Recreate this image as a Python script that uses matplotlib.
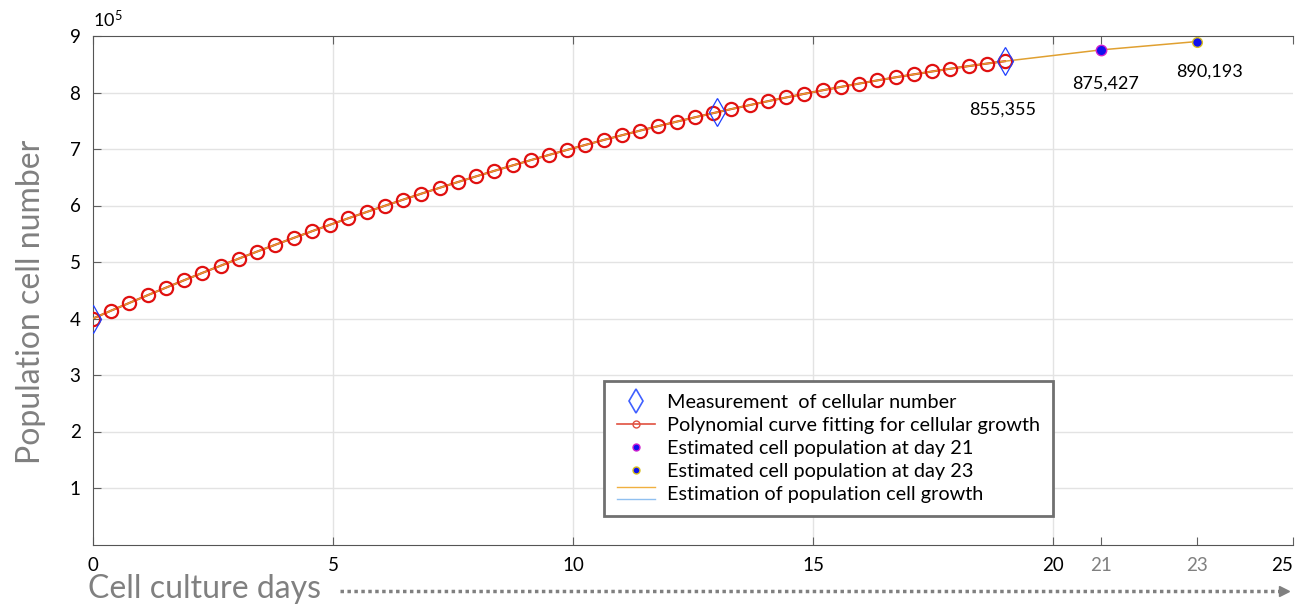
import numpy as np
import matplotlib.pyplot as plt
from matplotlib.lines import Line2D
from matplotlib.legend_handler import HandlerBase

plt.rcParams['font.family'] = ['Lato', 'DejaVu Sans']
plt.rcParams['mathtext.default'] = 'regular'

# measured cell counts (x 1e5)
meas_days = [0, 13, 19]
meas_values = [4.0, 7.65, 8.55355]

# polynomial fit samples (x 1e5)
fit_days = np.linspace(0, 19, 51)
fit_values = [4.000, 4.140, 4.277, 4.413, 4.546, 4.678, 4.808, 4.935, 5.061, 5.185,
              5.306, 5.426, 5.544, 5.660, 5.774, 5.885, 5.995, 6.103, 6.209, 6.313,
              6.415, 6.515, 6.613, 6.709, 6.803, 6.895, 6.985, 7.073, 7.160, 7.244,
              7.326, 7.406, 7.484, 7.561, 7.635, 7.707, 7.777, 7.846, 7.912, 7.977,
              8.039, 8.099, 8.158, 8.214, 8.269, 8.321, 8.372, 8.421, 8.467, 8.512,
              8.554]

# estimated populations
est_days = [21, 23]
est_values = [8.75427, 8.90193]

x_ticks = [0, 5, 10, 15, 20, 25]
extra_ticks = [21, 23]
y_ticks = [1, 2, 3, 4, 5, 6, 7, 8, 9]


class TwoLineHandler(HandlerBase):
    def create_artists(self, legend, orig_handle, xdescent, ydescent,
                       width, height, fontsize, trans):
        top, bottom = orig_handle
        x0, x1 = -xdescent, width - xdescent
        yc = height / 2 - ydescent
        l1 = Line2D([x0, x1], [yc + 0.45 * height] * 2, color=top.get_color(), lw=1)
        l2 = Line2D([x0, x1], [yc - 0.45 * height] * 2, color=bottom.get_color(), lw=1)
        l1.set_transform(trans)
        l2.set_transform(trans)
        return [l1, l2]


fig = plt.figure(figsize=(13.09, 6.10), dpi=100)
ax = fig.add_axes([93 / 1309, 65.5 / 610, 1200 / 1309, 508.5 / 610])

for v in y_ticks[:-1]:
    ax.axhline(v, color='#e3e3e3', lw=1, zorder=0)
for v in x_ticks[1:-1]:
    ax.axvline(v, color='#e3e3e3', lw=1, zorder=0)

ax.plot(fit_days, fit_values, color='#e01010', lw=1.5, zorder=2)
orange_days = list(fit_days) + est_days
orange_values = fit_values + est_values
ax.plot(orange_days, orange_values, color='#e0a030', lw=1.1, zorder=3)
ax.plot(fit_days, fit_values, 'o', ms=9.5, mfc='none', mec='#e01010', mew=1.6, zorder=4)
ax.plot(meas_days, meas_values, 'd', ms=14, mfc='none', mec='#2040ff', mew=0.9, zorder=5)
ax.plot(est_days[0], est_values[0], 'o', ms=7.5, mfc='#1010ee', mec='#d020d0', mew=1, zorder=6)
ax.plot(est_days[1], est_values[1], 'o', ms=7, mfc='#1010ee', mec='#d8c020', mew=1, zorder=6)

# value labels
offsets = [(-1.5, -35), (3, -24), (9, -22)]
lab_days = [meas_days[-1]] + est_days
lab_vals = [meas_values[-1]] + est_values
for d, v, off in zip(lab_days, lab_vals, offsets):
    ax.annotate(f"{int(round(v * 1e5)):,}", (d, v), xytext=off, textcoords='offset points',
                ha='center', va='center', fontsize=13)

ax.set_xlim(0, 25)
ax.set_ylim(0, 9)
ax.set_xticks(x_ticks + extra_ticks)
ax.set_xticklabels([str(t) for t in x_ticks + extra_ticks])
ax.set_yticks(y_ticks)
ax.tick_params(direction='in', length=6, colors='#606060', labelcolor='black',
               labelsize=13.5, top=True, pad=9)
for lbl in ax.get_xticklabels()[len(x_ticks):]:
    lbl.set_color('#808080')
ax.get_xticklabels()[len(x_ticks) - 1].set_horizontalalignment('right')
for s in ['top', 'left', 'bottom']:
    ax.spines[s].set_color('#555555')
ax.spines['right'].set_visible(False)

fig.text(93 / 1309, (610 - 19) / 610, r'10$^5$', fontsize=13, ha='left', va='center')
fig.text(31 / 1309, (610 - 302) / 610, 'Population cell number', rotation=90,
         fontsize=23, color='#808080', ha='center', va='center')
fig.text(88 / 1309, (610 - 589) / 610, 'Cell culture days', fontsize=23,
         color='#808080', ha='left', va='center')
fig.add_artist(Line2D([340 / 1309, 1282 / 1309], [(610 - 591) / 610] * 2,
                      transform=fig.transFigure, ls=(0, (1, 1)), lw=2.5, color='#808080'))
fig.add_artist(Line2D([1284 / 1309], [(610 - 591) / 610], transform=fig.transFigure,
                      marker='>', ms=7, color='#808080', ls='none'))

handles = [
    Line2D([], [], marker='d', ms=12, mfc='none', mec='#4060ff', mew=1.2, ls='none'),
    Line2D([], [], color='#e05040', lw=1.2, marker='o', ms=5, mfc='none', mec='#e05040'),
    Line2D([], [], marker='o', ms=5, mfc='#1010ee', mec='#d020d0', ls='none'),
    Line2D([], [], marker='o', ms=5, mfc='#1010ee', mec='#d8c020', ls='none'),
    (Line2D([], [], color='#f0b040'), Line2D([], [], color='#90c0f0')),
]
labels = ['Measurement  of cellular number',
          'Polynomial curve fitting for cellular growth',
          'Estimated cell population at day 21',
          'Estimated cell population at day 23',
          'Estimation of population cell growth']
leg = ax.legend(handles, labels, loc='lower left', bbox_to_anchor=(0.426, 0.056),
                fontsize=14.3, frameon=True, fancybox=False, framealpha=1,
                edgecolor='#707070', labelspacing=0.3, handlelength=1.9,
                handletextpad=0.6, borderpad=0.65, borderaxespad=0,
                handler_map={tuple: TwoLineHandler()})
leg.get_frame().set_linewidth(2)

fig.savefig('out.png', dpi=100)
